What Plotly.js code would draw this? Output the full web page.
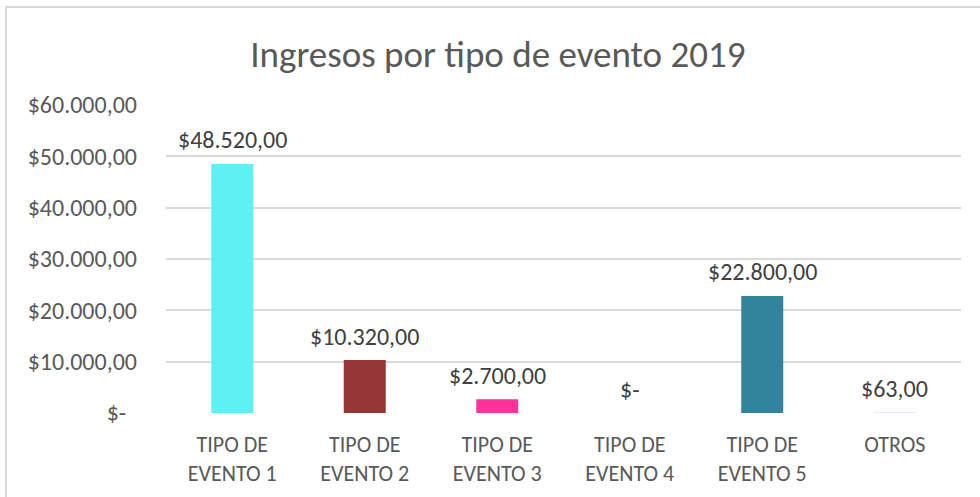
<!DOCTYPE html>
<html>
<head>
<meta charset="utf-8">
<script src="https://cdn.plot.ly/plotly-3.0.1.min.js"></script>
<style>
  html, body { margin: 0; padding: 0; background: #ffffff; }
  #wrap { position: relative; width: 980px; height: 497px; overflow: hidden; }
  #chart { width: 980px; height: 497px; }
  #frame { position: absolute; left: 5px; top: 6px; width: 1200px; height: 1200px;
           border: 2px solid #D9D9D9; box-sizing: border-box; pointer-events: none; }
</style>
</head>
<body>
<div id="wrap">
  <div id="chart"></div>
  <div id="frame"></div>
</div>
<script>
const categories = ["TIPO DE<br>EVENTO 1", "TIPO DE<br>EVENTO 2", "TIPO DE<br>EVENTO 3",
                    "TIPO DE<br>EVENTO 4", "TIPO DE<br>EVENTO 5", "OTROS"];
const values = [48520, 10320, 2700, 0, 22800, 63];
const barColors = ["#5EF0F2", "#963634", "#FF3399", "#B0B0B0", "#31849B", "#8DB4E2"];
const tickValues = [0, 10000, 20000, 30000, 40000, 50000, 60000];
const tickLabels = ["$-\u00a0\u00a0", "$10.000,00", "$20.000,00", "$30.000,00",
                    "$40.000,00", "$50.000,00", "$60.000,00"];
const chartTitle = "Ingresos por tipo de evento 2019";

const FONT = "Carlito, 'Open Sans', sans-serif";

function fmt(v) {
  if (v === 0) return "$-";
  const parts = v.toFixed(2).split(".");
  const intPart = parts[0].replace(/\B(?=(\d{3})+(?!\d))/g, ".");
  return "$" + intPart + "," + parts[1];
}

const trace = {
  type: "bar",
  x: categories,
  y: values,
  marker: { color: barColors },
  hoverinfo: "none"
};

const annotations = categories.map((c, i) => ({
  x: c, y: values[i], xref: "x", yref: "y",
  text: fmt(values[i]), showarrow: false,
  yanchor: "middle", yshift: 24,
  font: { family: FONT, size: 24, color: "#404040" }
}));

const layout = {
  width: 980, height: 497,
  margin: { l: 166, r: 19, t: 105, b: 84 },
  paper_bgcolor: "rgba(0,0,0,0)",
  plot_bgcolor: "rgba(0,0,0,0)",
  showlegend: false,
  bargap: 0.683,
  title: {
    text: chartTitle,
    x: 0.508, xanchor: "center",
    y: 0.892, yref: "container", yanchor: "middle",
    font: { family: FONT, size: 37, color: "#595959" }
  },
  xaxis: {
    type: "category",
    showgrid: false, zeroline: false, showline: false,
    ticks: "",
    ticklabelstandoff: 16,
    tickfont: { family: FONT, size: 22, color: "#595959" },
    fixedrange: true
  },
  yaxis: {
    range: [0, 60000],
    tickmode: "array",
    tickvals: tickValues,
    ticktext: tickLabels,
    showgrid: true, gridcolor: "#D9D9D9", gridwidth: 2,
    zeroline: false, showline: false,
    ticks: "",
    ticklabelstandoff: 28,
    tickfont: { family: FONT, size: 24, color: "#595959" },
    fixedrange: true
  },
  annotations: annotations
};

Plotly.newPlot("chart", [trace], layout, { displayModeBar: false, staticPlot: true });
</script>
</body>
</html>
